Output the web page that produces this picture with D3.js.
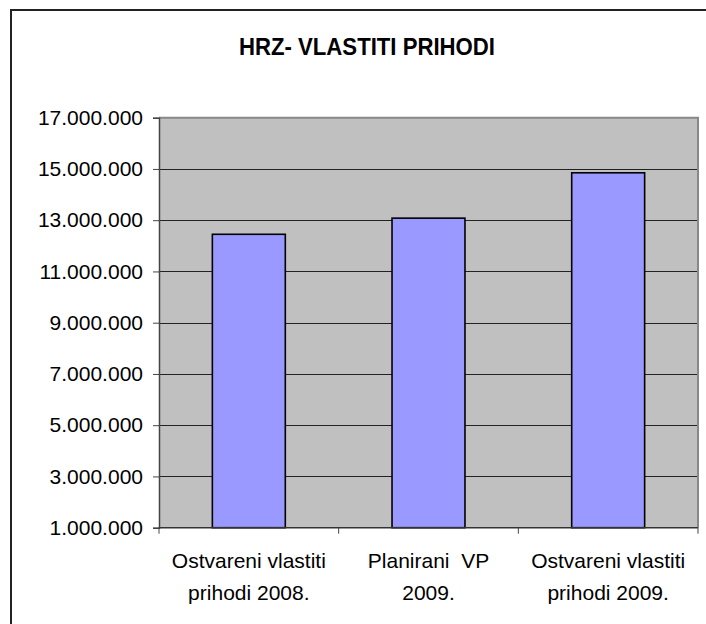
<!DOCTYPE html>
<html>
<head>
<meta charset="utf-8">
<script src="https://cdn.jsdelivr.net/npm/d3@7"></script>
<style>
  html, body { margin: 0; padding: 0; background: #fff; }
  svg { display: block; }
  text { font-family: "Liberation Sans", Arial, sans-serif; fill: #000; }
</style>
</head>
<body>
<div id="chart"></div>
<script>
// chart data
var chartTitle = "HRZ- VLASTITI PRIHODI";
var categories = [
  ["Ostvareni vlastiti", "prihodi 2008."],
  ["Planirani  VP", "2009."],
  ["Ostvareni vlastiti", "prihodi 2009."]
];
var values = [12450000, 13080000, 14850000];
var yTicks = [1000000, 3000000, 5000000, 7000000, 9000000, 11000000, 13000000, 15000000, 17000000];

var width = 706, height = 624;
// plot area box, as in the source sheet
var plot = {left: 159, right: 698, top: 117.7, bottom: 527.7};

var svg = d3.select("#chart").append("svg")
    .attr("width", width)
    .attr("height", height);

// outer chart frame (right and bottom fall outside the picture)
svg.append("rect")
    .attr("x", 11).attr("y", 10)
    .attr("width", 740).attr("height", 660)
    .attr("fill", "#fff")
    .attr("stroke", "#222")
    .attr("stroke-width", 2);

// title, narrow bold like the sheet font
svg.append("text")
    .attr("x", 367).attr("y", 55)
    .attr("text-anchor", "middle")
    .attr("font-weight", "bold")
    .attr("font-size", 24)
    .attr("textLength", 256)
    .attr("lengthAdjust", "spacingAndGlyphs")
    .text(chartTitle);

var x = d3.scaleBand()
    .domain(d3.range(categories.length))
    .range([plot.left, plot.right])
    .paddingInner(0.594)
    .paddingOuter(0.297);

var y = d3.scaleLinear()
    .domain([1000000, 17000000])
    .range([plot.bottom, plot.top]);

var fmt = d3.formatLocale({decimal: ",", thousands: ".", grouping: [3], currency: ["", ""]}).format(",.0f");

// grey plot background
svg.append("rect")
    .attr("x", plot.left).attr("y", plot.top)
    .attr("width", plot.right - plot.left)
    .attr("height", plot.bottom - plot.top)
    .attr("fill", "#c0c0c0");

// gridlines
svg.append("g")
  .selectAll("line")
  .data(yTicks.slice(1, -1))
  .join("line")
    .attr("x1", plot.left).attr("x2", plot.right)
    .attr("y1", function(d) { return Math.round(y(d)) + 0.5; })
    .attr("y2", function(d) { return Math.round(y(d)) + 0.5; })
    .attr("stroke", "#222")
    .attr("stroke-width", 1);

// top and right edges of plot area
svg.append("path")
    .attr("d", "M" + plot.left + "," + plot.top + "H" + plot.right + "V" + plot.bottom)
    .attr("fill", "none")
    .attr("stroke", "#888")
    .attr("stroke-width", 2);

// bars
svg.append("g")
  .selectAll("rect")
  .data(values)
  .join("rect")
    .attr("x", function(d, i) { return x(i); })
    .attr("y", function(d) { return y(d); })
    .attr("width", x.bandwidth())
    .attr("height", function(d) { return y(1000000) - y(d); })
    .attr("fill", "#9999ff")
    .attr("stroke", "#000")
    .attr("stroke-width", 1.6);

// y axis
var yAxis = svg.append("g")
    .attr("transform", "translate(" + plot.left + ",0)")
    .call(d3.axisLeft(y).tickValues(yTicks).tickFormat(fmt).tickSize(6).tickPadding(10));
yAxis.select(".domain").attr("stroke", "#444").attr("stroke-width", 1.5);
yAxis.selectAll(".tick line").attr("stroke", "#444");
yAxis.selectAll(".tick text")
    .attr("font-family", "'Liberation Sans', Arial, sans-serif")
    .attr("font-size", 21)
    .attr("fill", "#000");

// x axis line and category separator ticks
var step = x.step();
svg.append("line")
    .attr("x1", plot.left).attr("x2", plot.right)
    .attr("y1", plot.bottom).attr("y2", plot.bottom)
    .attr("stroke", "#333").attr("stroke-width", 1.5);
svg.append("g")
  .selectAll("line")
  .data(d3.range(categories.length + 1))
  .join("line")
    .attr("x1", function(i) { return plot.left + i * step; })
    .attr("x2", function(i) { return plot.left + i * step; })
    .attr("y1", plot.bottom).attr("y2", plot.bottom + 6)
    .attr("stroke", "#444");

// category labels
var labels = svg.append("g")
  .selectAll("text")
  .data(categories)
  .join("text")
    .attr("text-anchor", "middle")
    .attr("font-size", 21)
    .attr("x", function(d, i) { return x(i) + x.bandwidth() / 2; });
labels.selectAll("tspan")
  .data(function(d) { return d; })
  .join("tspan")
    .attr("x", function() { return d3.select(this.parentNode).attr("x"); })
    .attr("y", function(d, j) { return 568 + j * 32; })
    .style("white-space", "pre")
    .text(function(d) { return d; });
</script>
</body>
</html>
